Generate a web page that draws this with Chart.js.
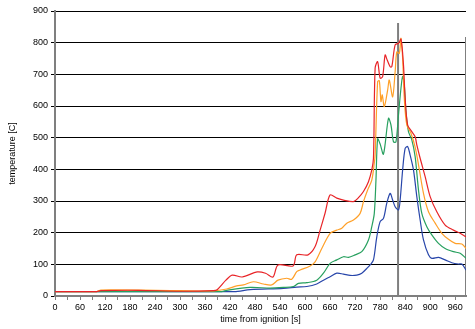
<!DOCTYPE html>
<html>
<head>
<meta charset="utf-8">
<script src="https://cdn.jsdelivr.net/npm/chart.js@4.4.1/dist/chart.umd.min.js"></script>
<style>
  html, body { margin: 0; padding: 0; background: #fff; }
  #wrap { width: 475px; height: 329px; }
</style>
</head>
<body>
<div id="wrap"><canvas id="fireChart"></canvas></div>
<script>
// Temperature curves, one time/temp pair per series
const redTime = [0, 100, 110, 200, 300, 380, 389, 410, 425, 449, 485, 505, 523, 535, 571, 580, 607, 624, 636, 648, 660, 676, 692, 716, 727, 740, 752, 760, 764, 768, 774, 780, 786, 792, 797, 804, 808, 816, 824, 830, 836, 840, 846, 856, 864, 868, 876, 888, 900, 916, 936, 956, 972, 986];
const redTemp = [14, 14, 17, 18, 15, 17, 20, 50, 66, 60, 76, 72, 60, 98, 95, 130, 130, 156, 208, 262, 319, 309, 303, 298, 309, 330, 361, 398, 435, 720, 740, 688, 693, 761, 745, 724, 724, 793, 798, 811, 730, 625, 540, 519, 503, 477, 435, 377, 314, 266, 224, 208, 198, 187];

const orangeTime = [0, 100, 110, 300, 380, 412, 436, 452, 476, 500, 520, 535, 556, 568, 580, 588, 612, 624, 640, 660, 676, 688, 700, 716, 732, 740, 750, 760, 766, 768, 774, 778, 782, 785, 790, 798, 802, 810, 816, 820, 826, 830, 834, 838, 844, 854, 864, 872, 884, 896, 912, 928, 944, 960, 976, 986];
const orangeTemp = [14, 14, 19, 17, 16, 22, 32, 35, 45, 38, 35, 50, 56, 53, 77, 82, 95, 108, 150, 198, 208, 214, 230, 240, 261, 298, 335, 366, 420, 445, 677, 680, 614, 635, 598, 650, 682, 629, 708, 771, 766, 814, 750, 624, 540, 514, 470, 415, 324, 266, 230, 198, 179, 166, 164, 150];

const greenTime = [0, 400, 412, 468, 516, 548, 572, 584, 604, 628, 644, 660, 676, 692, 704, 720, 736, 752, 760, 766, 770, 774, 780, 788, 800, 806, 812, 818, 824, 830, 834, 838, 842, 848, 856, 864, 872, 880, 892, 904, 920, 936, 956, 972, 986];
const greenTemp = [14, 14, 18, 27, 25, 27, 30, 40, 42, 50, 72, 103, 114, 124, 122, 130, 140, 177, 219, 261, 366, 496, 480, 448, 561, 540, 487, 487, 572, 656, 693, 666, 582, 519, 493, 440, 335, 261, 219, 193, 166, 150, 140, 135, 119];

const blueTime = [0, 430, 468, 548, 580, 604, 628, 644, 660, 676, 692, 708, 724, 736, 748, 756, 764, 772, 780, 788, 796, 804, 810, 816, 824, 828, 834, 840, 846, 852, 860, 868, 876, 884, 896, 904, 920, 936, 952, 968, 976, 986];
const blueTemp = [14, 14, 20, 24, 28, 30, 38, 50, 61, 72, 69, 65, 66, 72, 87, 98, 114, 187, 235, 245, 293, 324, 303, 282, 272, 303, 398, 466, 472, 445, 398, 314, 240, 177, 130, 119, 122, 114, 105, 101, 101, 82];

// marker lines: time of the vertical marker and the end of the record
const markerTime = [823, 823];
const markerTemp = [0, 862];
const endTime = [986, 986];
const endTemp = [0, 818];

const xTicks = [];
for (let t = 0; t <= 960; t += 30) xTicks.push(t);

const pts = (xs, ys) => xs.map((x, i) => ({ x: x, y: ys[i] }));

function series(xs, ys, color, width) {
    return {
        data: pts(xs, ys),
        borderColor: color,
        borderWidth: width,
        pointRadius: 0,
        tension: 0.3,
        fill: false
    };
}

const font = { family: 'Liberation Sans, Arial, sans-serif', size: 9 };

const ctx = document.getElementById('fireChart').getContext('2d');
new Chart(ctx, {
    type: 'line',
    data: {
        datasets: [
            series(redTime, redTemp, 'rgb(232, 36, 40)', 1.2),
            series(orangeTime, orangeTemp, 'rgb(255, 160, 40)', 1.2),
            series(greenTime, greenTemp, 'rgb(40, 160, 95)', 1.2),
            series(blueTime, blueTemp, 'rgb(40, 70, 170)', 1.2),
            Object.assign(series(markerTime, markerTemp, '#7f7f7f', 2), { tension: 0 }),
            Object.assign(series(endTime, endTemp, '#7f7f7f', 2), { tension: 0 })
        ]
    },
    options: {
        responsive: true,
        maintainAspectRatio: false,
        animation: false,
        layout: { padding: { top: 11, right: 9, left: 0, bottom: 0 } },
        plugins: {
            legend: { display: false },
            tooltip: { enabled: false }
        },
        scales: {
            x: {
                type: 'linear',
                min: 0,
                max: 986,
                afterBuildTicks: (s) => { s.ticks = xTicks.map(v => ({ value: v })); },
                afterFit: (s) => { s.height = 33; },
                ticks: {
                    autoSkip: false,
                    maxRotation: 0,
                    color: '#000',
                    font: font,
                    padding: 2,
                    callback: (v) => (v % 60 === 0 ? v : '')
                },
                grid: { drawOnChartArea: false, color: '#7f7f7f', tickLength: 4 },
                border: { color: '#7f7f7f', width: 2 },
                title: {
                    display: true,
                    text: 'time from ignition [s]',
                    color: '#000',
                    font: font,
                    padding: { top: 0, bottom: 4 }
                }
            },
            y: {
                min: 0,
                max: 900,
                afterFit: (s) => { s.width = 55; },
                ticks: { stepSize: 100, color: '#000', font: font, padding: 3 },
                grid: { color: '#000', lineWidth: 1, tickLength: 4 },
                border: { color: '#7f7f7f', width: 2 },
                title: {
                    display: true,
                    text: 'temperature [C]',
                    color: '#000',
                    font: font,
                    padding: { top: 7, bottom: 0 }
                }
            }
        }
    }
});
</script>
</body>
</html>
